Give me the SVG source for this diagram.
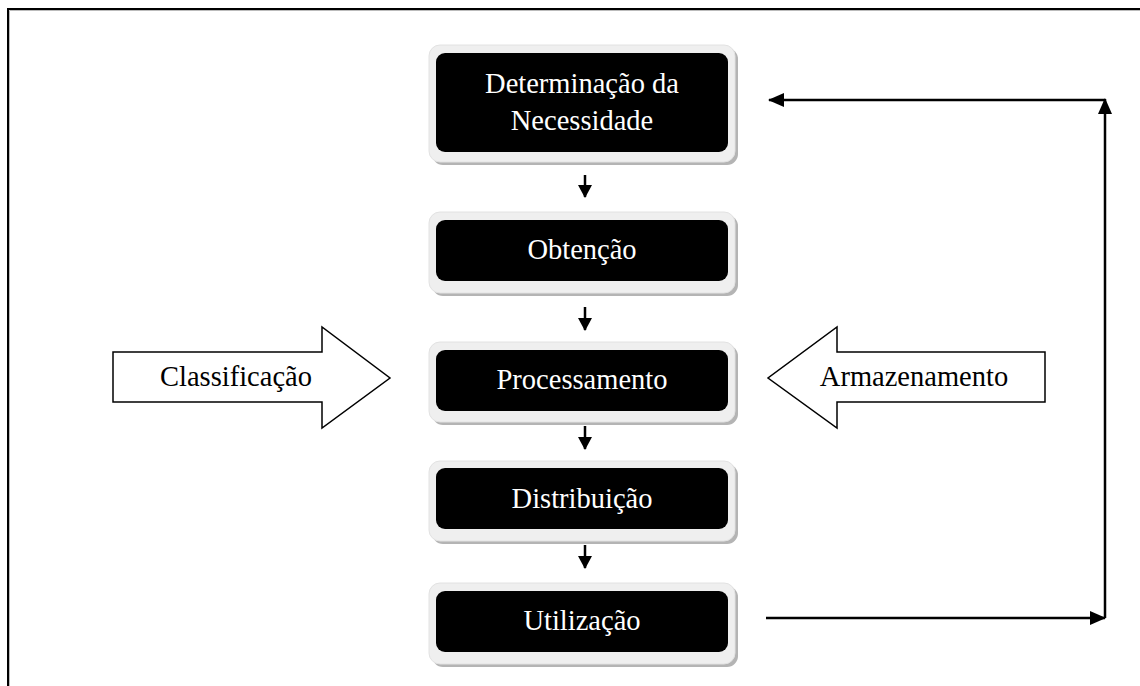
<svg xmlns="http://www.w3.org/2000/svg" width="1140" height="686" viewBox="0 0 1140 686">
<defs>
<style>
.sh{fill:#b4b4b4}
.outer{fill:#efefef;stroke:#e2e2e2;stroke-width:1}
.inner{fill:#000}
.wt{font-family:"Liberation Serif","Times New Roman",serif;font-size:28.5px;fill:#fff;text-anchor:middle}
.bt{font-family:"Liberation Serif","Times New Roman",serif;font-size:28.5px;fill:#000;text-anchor:middle}
.ln{stroke:#000;stroke-width:2.5;fill:none}
.blk{fill:#fff;stroke:#000;stroke-width:1.5}
</style>
<marker id="ah" viewBox="0 0 16 14" refX="15" refY="7" markerWidth="16" markerHeight="14" markerUnits="userSpaceOnUse" orient="auto">
<path d="M0,0 L16,7 L0,14 Z" fill="#000"/>
</marker>
<marker id="ahs" viewBox="0 0 13 14" refX="12" refY="7" markerWidth="13" markerHeight="14" markerUnits="userSpaceOnUse" orient="auto">
<path d="M0,0 L13,7 L0,14 Z" fill="#000"/>
</marker>
</defs>
<rect width="1140" height="686" fill="#fff"/>
<path d="M8,686 L8,9 L1140,9" fill="none" stroke="#000" stroke-width="2"/>
<path d="M9.5,686 L9.5,10.5 L1140,10.5" fill="none" stroke="#bbb" stroke-width="1"/>

<g id="n1">
<rect class="sh" x="432" y="48" width="306" height="117" rx="11"/>
<rect class="outer" x="429" y="45" width="306" height="117" rx="11"/>
<rect class="inner" x="436" y="53" width="292" height="99" rx="9"/>
<text class="wt" x="582" y="93">Determinação da</text>
<text class="wt" x="582" y="130">Necessidade</text>
</g>
<g id="n2">
<rect class="sh" x="432" y="215" width="306" height="81" rx="11"/>
<rect class="outer" x="429" y="212" width="306" height="81" rx="11"/>
<rect class="inner" x="436" y="220" width="292" height="61" rx="9"/>
<text class="wt" x="582" y="259">Obtenção</text>
</g>
<g id="n3">
<rect class="sh" x="432" y="345" width="306" height="80" rx="11"/>
<rect class="outer" x="429" y="342" width="306" height="80" rx="11"/>
<rect class="inner" x="436" y="350" width="292" height="61" rx="9"/>
<text class="wt" x="582" y="389">Processamento</text>
</g>
<g id="n4">
<rect class="sh" x="432" y="464" width="306" height="80" rx="11"/>
<rect class="outer" x="429" y="461" width="306" height="80" rx="11"/>
<rect class="inner" x="436" y="468" width="292" height="61" rx="9"/>
<text class="wt" x="582" y="508">Distribuição</text>
</g>
<g id="n5">
<rect class="sh" x="432" y="586" width="306" height="81" rx="11"/>
<rect class="outer" x="429" y="583" width="306" height="81" rx="11"/>
<rect class="inner" x="436" y="591" width="292" height="61" rx="9"/>
<text class="wt" x="582" y="630">Utilização</text>
</g>
<g id="classificacao">
<path class="blk" d="M113,352 L322,352 L322,327 L390,378 L322,428 L322,402 L113,402 Z"/>
<text class="bt" x="236" y="386">Classificação</text>
</g>
<g id="armazenamento">
<path class="blk" d="M1045,352 L837,352 L837,327 L768,378 L837,428 L837,402 L1045,402 Z"/>
<text class="bt" x="914" y="386">Armazenamento</text>
</g>
<g id="connectors">
<line class="ln" x1="585" y1="175" x2="585" y2="197" marker-end="url(#ahs)"/>
<line class="ln" x1="585" y1="307" x2="585" y2="330" marker-end="url(#ahs)"/>
<line class="ln" x1="585" y1="426" x2="585" y2="449" marker-end="url(#ahs)"/>
<line class="ln" x1="585" y1="545" x2="585" y2="568" marker-end="url(#ahs)"/>
<line class="ln" x1="766" y1="618" x2="1105" y2="618" marker-end="url(#ah)"/>
<line class="ln" x1="1105" y1="618" x2="1105" y2="99" marker-end="url(#ah)"/>
<line class="ln" x1="1105" y1="100" x2="769" y2="100" marker-end="url(#ah)"/>
</g>
</svg>
